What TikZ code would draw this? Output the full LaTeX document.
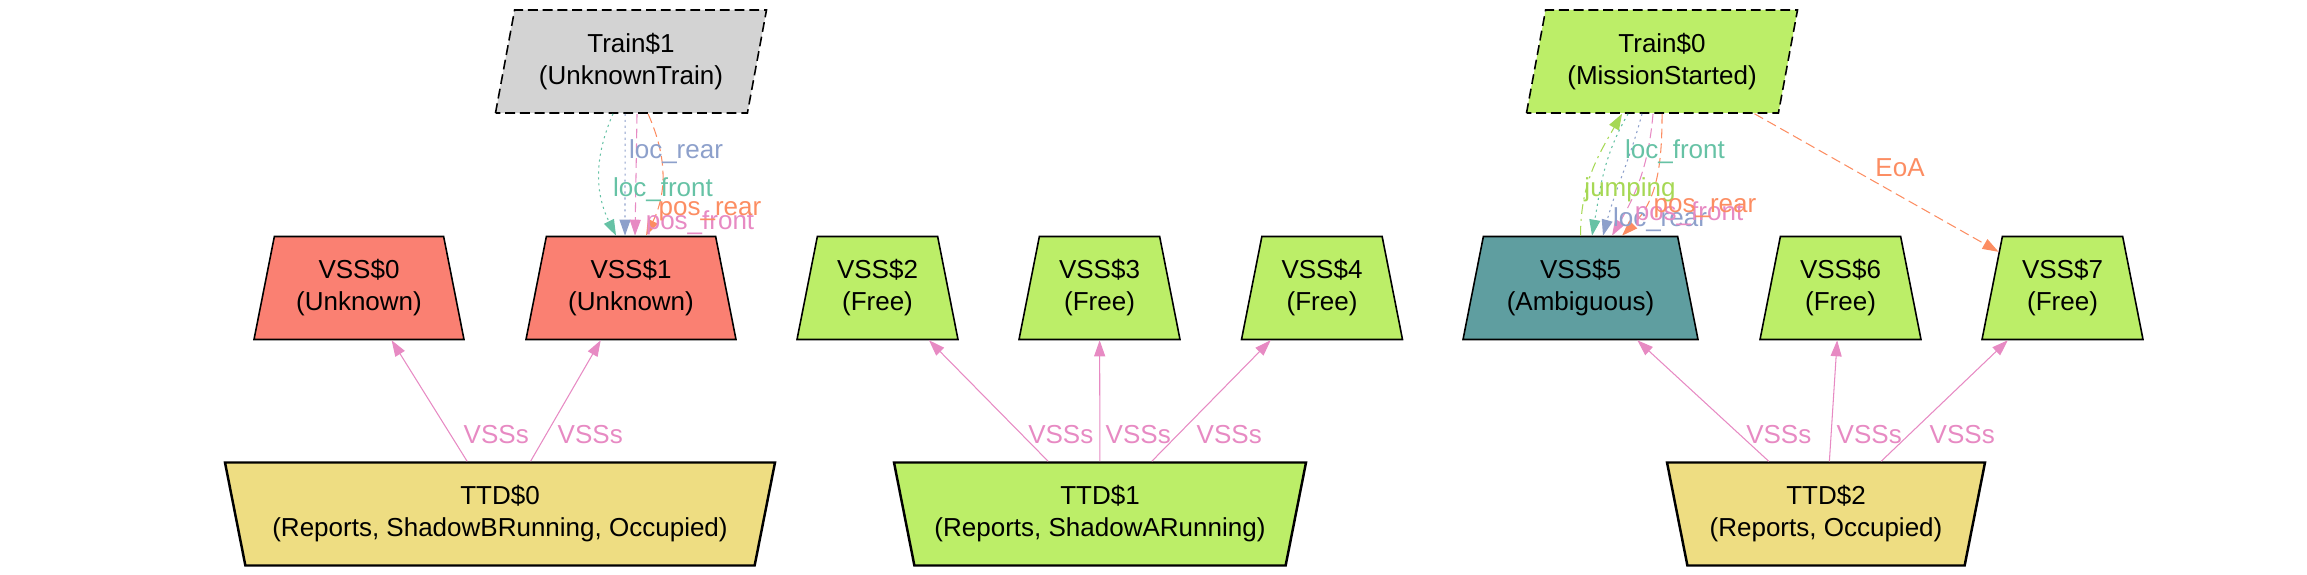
\documentclass[tikz,border=0pt]{standalone}
\usepackage{fontspec}
\setmainfont{Liberation Sans}
\usetikzlibrary{shapes.geometric, arrows.meta}

\definecolor{salmon}{HTML}{FA8072}
\definecolor{olivegreen}{HTML}{BCEE68}
\definecolor{unkgray}{HTML}{D3D3D3}
\definecolor{cadet}{HTML}{5F9EA0}
\definecolor{goldenrod}{HTML}{EEDD82}
\definecolor{setteal}{HTML}{66C2A5}
\definecolor{setorange}{HTML}{FC8D62}
\definecolor{setblue}{HTML}{8DA0CB}
\definecolor{setpink}{HTML}{E78AC3}
\definecolor{setlime}{HTML}{A6D854}

\begin{document}
\begin{tikzpicture}[
    >={Triangle[length=0.16cm,width=0.11cm]},
    every node/.style={font=\fontsize{7.4}{9.1}\selectfont},
    box/.style={draw, shape=trapezium, trapezium stretches body, minimum height=1.03cm, inner sep=0.05cm, align=center},
    vss/.style={box, trapezium left angle=73, trapezium right angle=73, line width=0.45pt},
    ttd/.style={box, trapezium left angle=107, trapezium right angle=107, line width=0.7pt},
    train/.style={box, trapezium left angle=74, trapezium right angle=106, line width=0.45pt, dash pattern=on 2.8pt off 1.4pt},
    lbl/.style={inner sep=0pt},
    link/.style={->, line width=0.3pt},
    dotline/.style={dash pattern=on 0.6pt off 1.1pt},
    dashline/.style={dash pattern=on 2.8pt off 1.4pt},
    dashdotline/.style={dash pattern=on 2.8pt off 1.4pt on 0.6pt off 1.4pt},
  ]
    \useasboundingbox (0,0) rectangle (23.07,5.75);

    % Trains
    \node[train, fill=unkgray, minimum width=2.71cm] (train1) at (6.31,5.135) {Train\$1\\(UnknownTrain)};
    \node[train, fill=olivegreen, minimum width=2.71cm] (train0) at (16.62,5.135) {Train\$0\\(MissionStarted)};

    % VSS row
    \node[vss, fill=salmon, minimum width=2.10cm] (vss0) at (3.59,2.87) {VSS\$0\\(Unknown)};
    \node[vss, fill=salmon, minimum width=2.10cm] (vss1) at (6.31,2.87) {VSS\$1\\(Unknown)};
    \node[vss, fill=olivegreen, minimum width=1.61cm] (vss2) at (8.775,2.87) {VSS\$2\\(Free)};
    \node[vss, fill=olivegreen, minimum width=1.61cm] (vss3) at (10.995,2.87) {VSS\$3\\(Free)};
    \node[vss, fill=olivegreen, minimum width=1.61cm] (vss4) at (13.22,2.87) {VSS\$4\\(Free)};
    \node[vss, fill=cadet, minimum width=2.35cm] (vss5) at (15.805,2.87) {VSS\$5\\(Ambiguous)};
    \node[vss, fill=olivegreen, minimum width=1.61cm] (vss6) at (18.405,2.87) {VSS\$6\\(Free)};
    \node[vss, fill=olivegreen, minimum width=1.61cm] (vss7) at (20.625,2.87) {VSS\$7\\(Free)};

    % TTD row
    \node[ttd, fill=goldenrod, minimum width=5.50cm] (ttd0) at (5.00,0.61) {TTD\$0\\(Reports, ShadowBRunning, Occupied)};
    \node[ttd, fill=olivegreen, minimum width=4.12cm] (ttd1) at (11.00,0.61) {TTD\$1\\(Reports, ShadowARunning)};
    \node[ttd, fill=goldenrod, minimum width=3.18cm] (ttd2) at (18.26,0.61) {TTD\$2\\(Reports, Occupied)};

    % TTD -> VSS
    \draw[link, setpink] (ttd0) -- (vss0);
    \draw[link, setpink] (ttd0) -- (vss1);
    \draw[link, setpink] (ttd1) -- (vss2);
    \draw[link, setpink] (ttd1) -- (vss3);
    \draw[link, setpink] (ttd1) -- (vss4);
    \draw[link, setpink] (ttd2) -- (vss5);
    \draw[link, setpink] (ttd2) -- (vss6);
    \draw[link, setpink] (ttd2) -- (vss7);
    \node[lbl, text=setpink, anchor=west] (v0a) at (4.63,1.40) {VSSs};
    \node[lbl, text=setpink, anchor=west] (v0b) at (5.57,1.40) {VSSs};
    \node[lbl, text=setpink, anchor=east] (v1a) at (10.94,1.40) {VSSs};
    \node[lbl, text=setpink, anchor=west] (v1b) at (11.05,1.40) {VSSs};
    \node[lbl, text=setpink, anchor=west] (v1c) at (11.96,1.40) {VSSs};
    \node[lbl, text=setpink, anchor=east] (v2a) at (18.12,1.40) {VSSs};
    \node[lbl, text=setpink, anchor=west] (v2b) at (18.36,1.40) {VSSs};
    \node[lbl, text=setpink, anchor=west] (v2c) at (19.29,1.40) {VSSs};

    % Train$1 -> VSS$1
    \draw[link, setteal, dotline] ([xshift=-0.18cm]train1.south) to[bend right=25] ([xshift=-0.15cm]vss1.north);
    \draw[link, setblue, dotline] ([xshift=-0.06cm]train1.south) -- ([xshift=-0.06cm]vss1.north);
    \draw[link, setpink, dashline] ([xshift=0.06cm]train1.south) -- ([xshift=0.04cm]vss1.north);
    \draw[link, setorange, dashline] ([xshift=0.17cm]train1.south) to[bend left=25] ([xshift=0.15cm]vss1.north);
    \node[lbl, text=setblue] (lr1) at (6.76,4.23) {loc\_rear};
    \node[lbl, text=setteal] (lf1) at (6.63,3.85) {loc\_front};
    \node[lbl, text=setpink] (pf1) at (7.00,3.52) {pos\_front};
    \node[lbl, text=setorange] (pr1) at (7.10,3.64) {pos\_rear};

    % Train$0 <-> VSS$5
    \draw[link, setlime, dashdotline] (vss5.north) to[out=90, in=-120] ([xshift=-0.40cm]train0.south);
    \draw[link, setteal, dotline] ([xshift=-0.34cm]train0.south) to[out=-120, in=80] ([xshift=0.115cm]vss5.north);
    \draw[link, setblue, dotline] ([xshift=-0.20cm]train0.south) to[out=-105, in=75] ([xshift=0.225cm]vss5.north);
    \draw[link, setpink, dashline] ([xshift=-0.09cm]train0.south) to[out=-95, in=60] ([xshift=0.315cm]vss5.north);
    \draw[link, setorange, dashline] (train0.south) to[out=-90, in=45] ([xshift=0.415cm]vss5.north);
    \node[lbl, text=setteal] (lf0) at (16.75,4.23) {loc\_front};
    \node[lbl, text=setlime] (jp0) at (16.30,3.85) {jumping};
    \node[lbl, text=setblue] (lr0) at (16.60,3.55) {loc\_rear};
    \node[lbl, text=setpink] (pf0) at (16.89,3.61) {pos\_front};
    \node[lbl, text=setorange] (pr0) at (17.05,3.67) {pos\_rear};

    % End of authority
    \draw[link, setorange, dashline] (train0) -- (vss7);
    \node[lbl, text=setorange] (eoa) at (19.00,4.07) {EoA};
\end{tikzpicture}
\end{document}
